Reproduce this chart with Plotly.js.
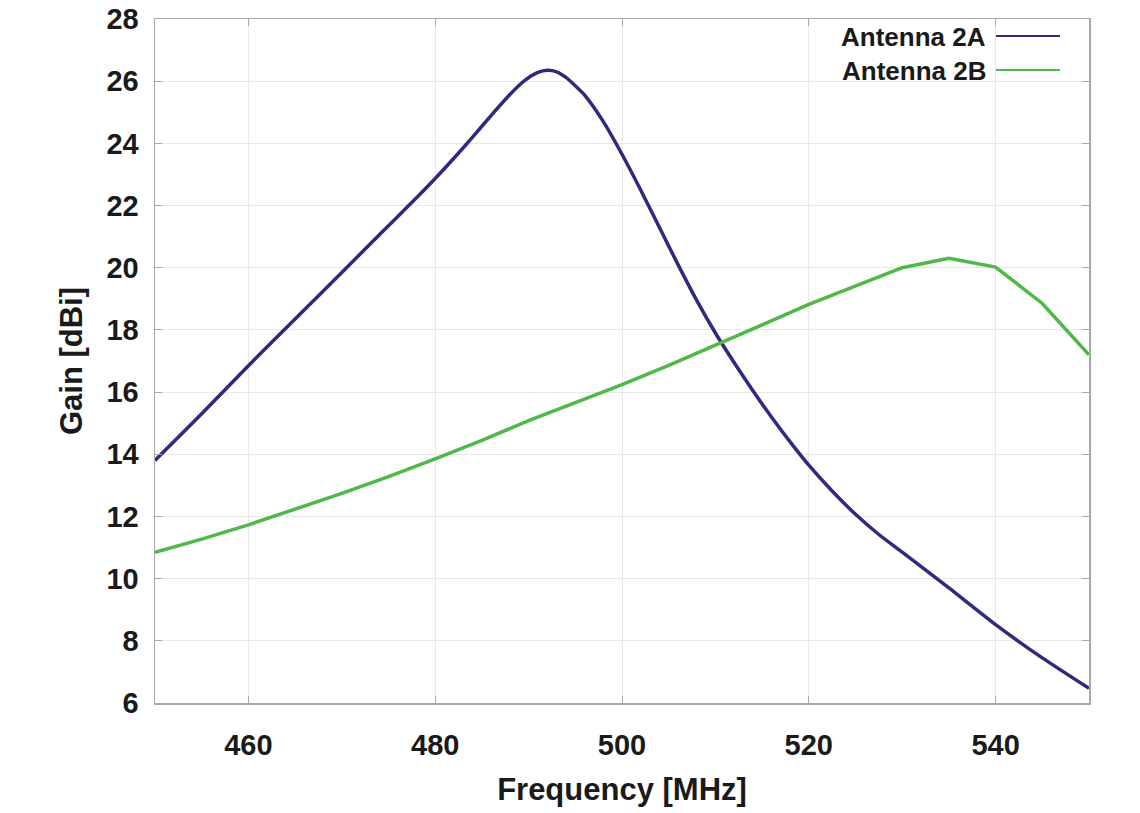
<!DOCTYPE html>
<html>
<head>
<meta charset="utf-8">
<script src="https://cdn.plot.ly/plotly-3.0.1.min.js"></script>
<style>html,body{margin:0;padding:0;background:#fff;}#chart{width:1140px;height:813px;}</style>
</head>
<body>
<div id="chart"></div>
<script>
// Antenna 2A (blue)
const freqA = [450,455,460,465,470,474,476,478,480,482,484,486,488,489.5,491,492,493,494,495,496,498,500,502,504,506,508,510,512,514,516,518,520,522.5,525,527.5,530,535,540,545,550];
const gainA = [13.8,15.3,16.85,18.35,19.85,21.05,21.65,22.25,22.87,23.52,24.2,24.9,25.57,26.0,26.28,26.35,26.3,26.12,25.85,25.55,24.7,23.65,22.5,21.3,20.1,18.95,17.9,16.95,16.05,15.2,14.4,13.65,12.82,12.07,11.42,10.85,9.7,8.52,7.45,6.47];
// Antenna 2B (green)
const freqB = [450,455,460,465,470,475,480,485,490,495,500,505,510,515,520,525,530,535,540,545,550];
const gainB = [10.85,11.27,11.73,12.22,12.74,13.28,13.85,14.45,15.08,15.66,16.24,16.86,17.5,18.16,18.82,19.42,20.0,20.3,20.02,18.85,17.2];
const seriesNames = ['Antenna 2A','Antenna 2B'];
const xTicks = [460,480,500,520,540];
const yTicks = [6,8,10,12,14,16,18,20,22,24,26,28];

const blue = '#2d2a7f', green = '#50b848';
const fam = '"Liberation Sans", Arial, sans-serif';

const traces = [
  {x: freqA, y: gainA, name: seriesNames[0], mode: 'lines', line: {color: blue, width: 3.5, shape: 'spline', smoothing: 0.6}},
  {x: freqB, y: gainB, name: seriesNames[1], mode: 'lines', line: {color: green, width: 3.5}}
];

const axisCommon = {
  showline: true, linecolor: '#a8a8a8', linewidth: 1.5, mirror: 'ticks',
  ticks: 'inside', ticklen: 7, tickcolor: '#a8a8a8', tickwidth: 1,
  showgrid: true, gridcolor: '#e8e8e8', gridwidth: 1, zeroline: false,
  tickfont: {family: fam, size: 29, color: '#1a1a1a', weight: 'bold'},
  ticklabeloverflow: 'allow',
  automargin: false
};

const T = 19, B = 110, H = 813 - T - B, L = 155, W = 934;
const layout = {
  width: 1140, height: 813,
  margin: {l: L, r: 51, t: T, b: B},
  paper_bgcolor: '#fff', plot_bgcolor: '#fff',
  showlegend: false,
  xaxis: Object.assign({}, axisCommon, {
    range: [450, 550], tickmode: 'array', tickvals: xTicks, ticktext: xTicks.map(String),
    ticklabelstandoff: 16,
    title: {text: 'Frequency [MHz]', font: {family: fam, size: 31, color: '#1a1a1a', weight: 'bold'}, standoff: 18}
  }),
  yaxis: Object.assign({}, axisCommon, {
    range: [6, 28], tickmode: 'array', tickvals: yTicks, ticktext: yTicks.map(String),
    ticklabelstandoff: 9,
    title: {text: 'Gain [dBi]', font: {family: fam, size: 31, color: '#1a1a1a', weight: 'bold'}, standoff: 14}
  }),
  annotations: [
    {xref: 'paper', yref: 'paper', x: (988-L)/W, y: (813-B-37)/H, xanchor: 'right', yanchor: 'middle', showarrow: false,
     text: seriesNames[0], font: {family: fam, size: 26, color: '#1a1a1a', weight: 'bold'}},
    {xref: 'paper', yref: 'paper', x: (988-L)/W, y: (813-B-71)/H, xanchor: 'right', yanchor: 'middle', showarrow: false,
     text: seriesNames[1], font: {family: fam, size: 26, color: '#1a1a1a', weight: 'bold'}}
  ],
  shapes: [
    {type: 'line', xref: 'paper', yref: 'paper', x0: (996-L)/W, x1: (1060-L)/W, y0: (813-B-36)/H, y1: (813-B-36)/H, line: {color: blue, width: 2}},
    {type: 'line', xref: 'paper', yref: 'paper', x0: (996-L)/W, x1: (1060-L)/W, y0: (813-B-70)/H, y1: (813-B-70)/H, line: {color: green, width: 2}}
  ]
};

Plotly.newPlot('chart', traces, layout, {displayModeBar: false, staticPlot: true});
</script>
</body>
</html>
